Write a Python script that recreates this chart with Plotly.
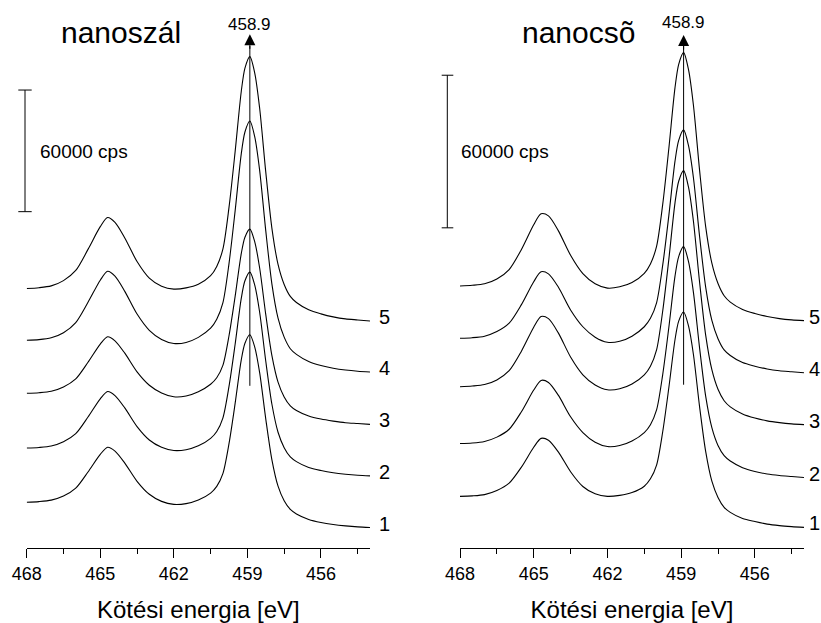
import plotly.graph_objects as go

# Binding energy grid (eV)
energy = [468, 467.5, 467, 466.5, 466, 465.5, 465, 464.7, 464.4, 464, 463.5, 463, 462.5, 462,
          461.5, 461, 460.5, 460.25, 460, 459.75, 459.5, 459.25, 459.1, 458.9, 458.7, 458.5,
          458.25, 458, 457.75, 457.5, 457.25, 457, 456.5, 456, 455.5, 455, 454.5, 454]

# Ti 2p intensities (10^3 cps, relative to each spectrum's high-BE baseline) - nanoszál
wire_1 = [0, 0.3, 1.0, 3.0, 6.9, 14.9, 23.6, 27.1, 25.2, 19.3, 10.3, 3.9, 0.4, -1.1, -0.7, 1.1, 4.5, 7.8, 14.1, 28.9, 48.7, 70.2, 78.4, 82.6, 76.5, 63.9, 41.0, 20.9, 7.9, 0.7, -3.6, -5.8, -8.5, -10.0, -11.0, -11.7, -12.2, -12.5]
wire_2 = [0, 0.3, 1.0, 3.1, 7.1, 15.3, 24.3, 27.9, 25.9, 19.8, 10.6, 4.0, 0.4, -1.2, -0.8, 1.1, 4.8, 8.2, 14.8, 30.4, 51.2, 73.8, 82.5, 86.8, 80.4, 67.0, 42.8, 21.6, 7.8, 0.2, -4.4, -6.7, -9.6, -11.1, -12.2, -12.9, -13.4, -13.7]
wire_3 = [0, 0.3, 1.0, 3.1, 7.1, 15.3, 24.3, 27.9, 25.9, 19.8, 10.6, 4.0, 0.2, -1.7, -1.3, 0.8, 4.5, 7.7, 13.8, 28.4, 47.8, 68.9, 77.0, 81.0, 74.7, 61.8, 38.8, 18.6, 5.5, -1.8, -6.2, -8.5, -11.2, -12.7, -13.7, -14.5, -14.9, -15.3]
wire_4 = [0, 0.3, 1.2, 3.7, 8.7, 18.7, 29.6, 34.0, 31.6, 24.1, 12.9, 4.9, 0.4, -1.6, -1.1, 1.4, 5.9, 10.3, 18.4, 37.8, 63.8, 91.9, 102.7, 108.1, 100.3, 83.8, 53.9, 27.7, 10.9, 1.5, -4.2, -7.0, -10.5, -12.5, -13.8, -14.7, -15.3, -15.7]
wire_5 = [0, 0.4, 1.3, 3.9, 8.9, 19.3, 30.5, 35.0, 32.6, 24.9, 13.3, 5.1, 1.1, -0.3, 0.3, 2.1, 6.3, 10.9, 19.4, 40.0, 67.5, 97.2, 108.7, 114.4, 106.3, 88.9, 57.4, 29.7, 11.9, 2.0, -3.9, -6.9, -10.5, -12.5, -14.0, -15.0, -15.5, -16.0]

# nanocsõ
tube_1 = [0, 0.2, 0.7, 2.3, 5.2, 11.5, 19.3, 22.8, 22.1, 17.5, 9.7, 3.9, 1.0, 0, 0.4, 1.5, 4.0, 6.9, 12.3, 25.4, 42.8, 61.6, 68.9, 72.5, 67.0, 55.8, 35.3, 17.6, 6.0, -0.4, -4.3, -6.3, -8.7, -9.9, -10.9, -11.5, -11.9, -12.2]
tube_2 = [0, 0.2, 0.8, 2.5, 5.6, 12.5, 21.0, 24.8, 24.0, 19.0, 10.5, 4.3, 0.5, -1.2, -0.8, 1.0, 4.3, 7.4, 13.2, 27.1, 45.7, 65.8, 73.5, 77.4, 71.5, 59.4, 37.6, 18.5, 6.2, -0.8, -4.8, -6.9, -9.5, -11.0, -12.0, -12.6, -13.0, -13.4]
tube_3 = [0, 0.3, 0.9, 2.7, 6.3, 14.0, 23.4, 27.6, 26.8, 21.2, 11.7, 4.7, 0.7, -1.2, -0.8, 1.1, 4.7, 8.1, 14.5, 29.8, 50.2, 72.3, 80.8, 85.0, 78.5, 65.1, 41.2, 20.2, 6.7, -1.0, -5.5, -7.9, -10.7, -12.3, -13.4, -14.1, -14.6, -14.9]
tube_4 = [0, 0.2, 0.8, 2.6, 5.9, 13.2, 22.2, 26.1, 25.3, 20.1, 11.1, 4.5, 0.4, -1.6, -1.2, 0.8, 4.5, 7.8, 13.9, 28.7, 48.3, 69.6, 77.8, 81.9, 75.7, 63.1, 40.1, 20.0, 7.0, -0.2, -4.6, -6.8, -9.6, -11.0, -12.1, -12.8, -13.2, -13.6]
tube_5 = [0, 0.3, 0.9, 2.8, 6.5, 14.4, 24.1, 28.4, 27.6, 21.8, 12.1, 4.9, 0.9, -0.8, -0.3, 1.4, 5.0, 8.7, 15.6, 32.1, 54.2, 78.0, 87.2, 91.8, 85.1, 71.1, 45.6, 23.3, 9.0, 1.0, -3.8, -6.3, -9.2, -10.8, -12.0, -12.8, -13.3, -13.6]

# vertical stacking offsets (10^3 cps)
wire_offsets = [22.6, 49.3, 76.3, 102.5, 128.0]
tube_offsets = [20.3, 41.1, 63.4, 82.5, 103.0]

curve_labels = ["1", "2", "3", "4", "5"]
tick_vals = [468, 465, 462, 459, 456]
minor_vals = [466.5, 463.5, 460.5, 457.5, 454.5]
peak_energy = 458.9
scale_bar_kcps = 60

FONT = "Liberation Sans, Arial, sans-serif"
W, H = 821, 623
PLOT_H = 548.3

fig = go.Figure()

wires = [wire_1, wire_2, wire_3, wire_4, wire_5]
tubes = [tube_1, tube_2, tube_3, tube_4, tube_5]

LINE = dict(color="black", width=1.1, shape="spline", smoothing=0.8)
for vals, off in zip(wires, wire_offsets):
    fig.add_trace(go.Scatter(x=energy, y=[v + off for v in vals], mode="lines", line=LINE,
                             xaxis="x", yaxis="y", showlegend=False, hoverinfo="skip"))
for vals, off in zip(tubes, tube_offsets):
    fig.add_trace(go.Scatter(x=energy, y=[v + off for v in vals], mode="lines", line=LINE,
                             xaxis="x2", yaxis="y2", showlegend=False, hoverinfo="skip"))

def xaxis(domain, anchor):
    return dict(domain=domain, anchor=anchor, range=[468, 454], tickvals=tick_vals,
                ticktext=[str(t) for t in tick_vals], ticks="outside", ticklen=9, tickwidth=1,
                tickcolor="black", showline=True, linecolor="black", linewidth=1,
                showgrid=False, zeroline=False, automargin=False,
                minor=dict(tickvals=minor_vals, ticks="outside", ticklen=5, tickcolor="black", tickwidth=1),
                tickfont=dict(family=FONT, size=18, color="black"),
                title=dict(text="Kötési energia [eV]", font=dict(family=FONT, size=24, color="black"), standoff=20))

def yaxis(rng, anchor):
    return dict(domain=[0, 1], anchor=anchor, range=rng, visible=False, showgrid=False,
                zeroline=False, automargin=False)

fig.update_layout(
    width=W, height=H, margin=dict(l=0, r=0, t=0, b=H - PLOT_H, autoexpand=False),
    paper_bgcolor="white", plot_bgcolor="white",
    xaxis=xaxis([26.7 / W, 370 / W], "y"),
    xaxis2=xaxis([460 / W, 804 / W], "y2"),
    yaxis=yaxis([0, PLOT_H * 0.493], "x"),
    yaxis2=yaxis([0, PLOT_H * 0.393], "x2"),
)

def py(p):
    return (PLOT_H - p) / PLOT_H

shapes = []
annotations = []
panels = [
    dict(xr="x", yr="y", title="nanoszál", title_x=120.8, scale_bottom=165.9, bar_x=25, cap=(18.3, 31.7),
         label_x=38.3, line_lo=80.0, line_hi=247.6, tip=253.4, lbl_y=25, data=wires, offs=wire_offsets, num_shift=7),
    dict(xr="x2", yr="y2", title="nanocsõ", title_x=578.3, scale_bottom=125.9, bar_x=447.3, cap=(441.7, 453.3),
         label_x=459.3, line_lo=64.2, line_hi=197.8, tip=201.7, lbl_y=22.7, data=tubes, offs=tube_offsets, num_shift=3),
]
for pn in panels:
    annotations.append(dict(text=pn["title"], x=pn["title_x"] / W, y=py(33), xref="paper", yref="paper",
                            xanchor="center", yanchor="middle", showarrow=False,
                            font=dict(family=FONT, size=30, color="black")))
    b0, b1 = pn["scale_bottom"], pn["scale_bottom"] + scale_bar_kcps
    shapes.append(dict(type="line", xref="paper", yref=pn["yr"], x0=pn["bar_x"] / W, x1=pn["bar_x"] / W,
                       y0=b0, y1=b1, line=dict(color="black", width=1)))
    for yy in (b0, b1):
        shapes.append(dict(type="line", xref="paper", yref=pn["yr"], x0=pn["cap"][0] / W, x1=pn["cap"][1] / W,
                           y0=yy, y1=yy, line=dict(color="black", width=1)))
    annotations.append(dict(text=f"{scale_bar_kcps * 1000} cps", x=pn["label_x"] / W, y=py(151.7),
                            xref="paper", yref="paper", xanchor="left", yanchor="middle", showarrow=False,
                            font=dict(family=FONT, size=19, color="black")))
    shapes.append(dict(type="line", xref=pn["xr"], yref=pn["yr"], x0=peak_energy, x1=peak_energy,
                       y0=pn["line_lo"], y1=pn["line_hi"], line=dict(color="black", width=1)))
    annotations.append(dict(text="", x=peak_energy, y=pn["tip"], xref=pn["xr"], yref=pn["yr"],
                            ax=0, ay=16, showarrow=True, arrowhead=2, arrowsize=2.2, arrowwidth=1,
                            arrowcolor="black"))
    annotations.append(dict(text=f"{peak_energy}", x=peak_energy, y=py(pn["lbl_y"]), xref=pn["xr"], yref="paper",
                            xanchor="center", yanchor="middle", showarrow=False,
                            font=dict(family=FONT, size=17, color="black")))
    for lab, vals, off in zip(curve_labels, pn["data"], pn["offs"]):
        annotations.append(dict(text=lab, x=energy[-1], y=vals[-1] + off, xref=pn["xr"], yref=pn["yr"],
                                xanchor="left", yanchor="middle", xshift=pn["num_shift"], yshift=4,
                                showarrow=False, font=dict(family=FONT, size=20, color="black")))

fig.update_layout(shapes=shapes, annotations=annotations)
fig.write_html("out.html")
